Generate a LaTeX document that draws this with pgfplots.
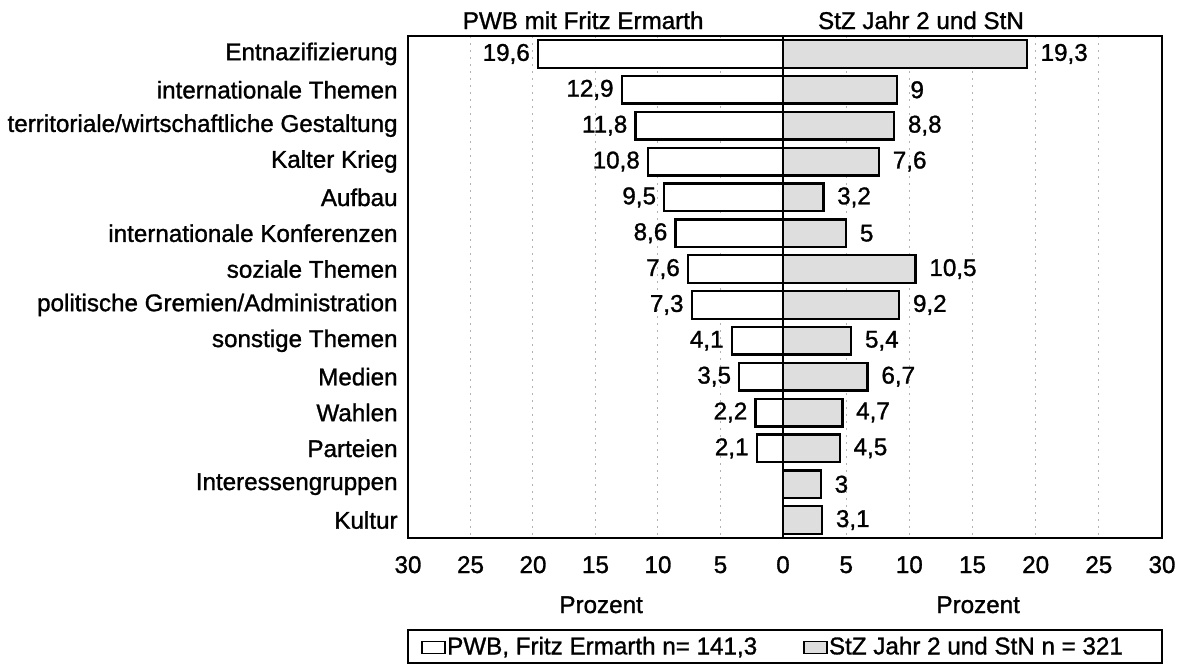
\documentclass[border=0pt]{standalone}
\usepackage{fontspec}
\setmainfont{Liberation Sans}[FakeBold=1.2]
\usepackage{pgfplots}
\usepackage{pgfplotstable}
\pgfplotsset{compat=1.18}

\pgfplotstableread{
y val lab
0 19.6 19,6
1 12.9 12,9
2 11.8 11,8
3 10.8 10,8
4 9.5 9,5
5 8.6 8,6
6 7.6 7,6
7 7.3 7,3
8 4.1 4,1
9 3.5 3,5
10 2.2 2,2
11 2.1 2,1
}\leftdata

\pgfplotstableread{
y val lab
0 19.3 19,3
1 9 9
2 8.8 8,8
3 7.6 7,6
4 3.2 3,2
5 5 5
6 10.5 10,5
7 9.2 9,2
8 5.4 5,4
9 6.7 6,7
10 4.7 4,7
11 4.5 4,5
12 3 3
13 3.1 3,1
}\rightdata

\begin{document}
\fontsize{12.1}{14}\selectfont
\begin{tikzpicture}
\useasboundingbox (0,0) rectangle (591pt,332.5pt);
\pgfplotsset{
 common/.style={
  scale only axis, anchor=south west, height=251pt, clip=false,
  xbar, xmin=0, xmax=30, ymin=-0.5, ymax=13.5, y dir=reverse,
  bar width=13.8pt,
  axis line style={line width=1.2pt},
  major tick length=0pt,
  xmajorgrids, major grid style={gray!60, line width=0.5pt, dash pattern=on 1pt off 2.5pt},
  /pgf/number format/assume math mode=true,
  xticklabel style={anchor=base, yshift=-17.5pt, inner sep=0pt},
  xlabel style={at={(axis description cs:0.515,0)}, anchor=base, yshift=-37.5pt, inner sep=0pt},
  xlabel={Prozent},
  point meta=explicit symbolic,
  nodes near coords={\pgfplotspointmeta},
  every axis plot/.append style={draw=black, line width=1.2pt},
 }
}
\begin{axis}[common, at={(204pt,63.5pt)}, width=187.5pt, x dir=reverse,
 xtick={0,5,...,30}, ytick={0,...,13},
 yticklabels={Entnazifizierung,internationale Themen,territoriale/wirtschaftliche Gestaltung,Kalter Krieg,Aufbau,internationale Konferenzen,soziale Themen,politische Gremien/Administration,sonstige Themen,Medien,Wahlen,Parteien,Interessengruppen,Kultur},
 yticklabel style={inner xsep=0pt, xshift=-5pt},
 every node near coord/.append style={anchor=east, inner xsep=0pt, xshift=-3.5pt, text=black},
 legend style={at={(axis description cs:0,-0.1833)}, anchor=north west, draw=none, fill=none,
   legend columns=2, inner xsep=6.5pt, inner ysep=1.2pt, nodes={inner xsep=0.5pt},
   cells={anchor=west},
   /tikz/every even column/.append style={column sep=22.5pt}},
 legend image code/.code={\draw[#1, line width=0.9pt] (0pt,-3pt) rectangle (11.5pt,3pt);},
]
\addplot[fill=white] table[x=val, y=y, meta=lab] {\leftdata};
\addlegendentry{PWB, Fritz Ermarth n= 141,3}
\addlegendimage{draw=black, fill=black!13}
\addlegendentry{StZ Jahr 2 und StN n = 321}
\node[anchor=base, yshift=3.5pt] at (axis description cs:0.467,1) {PWB mit Fritz Ermarth};
\end{axis}
\begin{axis}[common, at={(391.5pt,63.5pt)}, width=189.5pt,
 xtick={5,10,...,30}, ytick=\empty,
 every node near coord/.append style={anchor=west, inner xsep=0pt, xshift=6.3pt, text=black},
]
\addplot[fill=black!13] table[x=val, y=y, meta=lab] {\rightdata};
\node[anchor=base, yshift=3.5pt] at (axis description cs:0.364,1) {StZ Jahr 2 und StN};
\end{axis}
\draw[line width=1pt] (204pt,0.8pt) rectangle (581pt,17.5pt);
\end{tikzpicture}
\end{document}
